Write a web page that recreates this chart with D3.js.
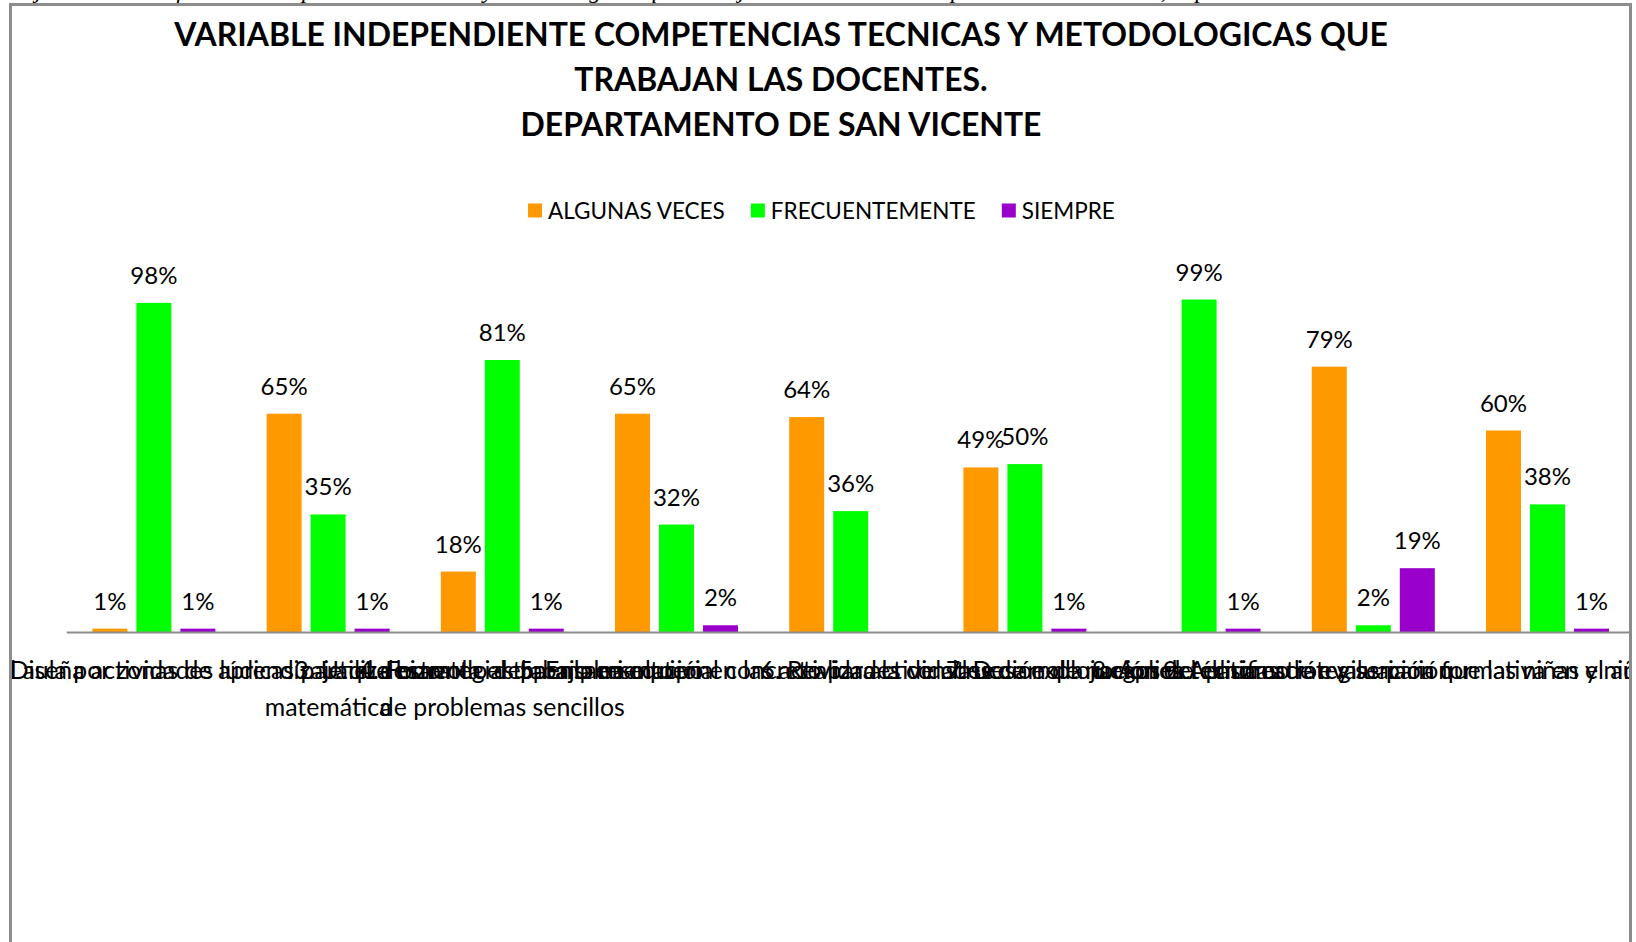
<!DOCTYPE html>
<html>
<head>
<meta charset="utf-8">
<script src="https://cdn.jsdelivr.net/npm/d3@7"></script>
<style>
  body { margin: 0; background: #fff; }
  svg { display: block; }
</style>
</head>
<body>
<div id="chart"></div>
<script>
// chart data
const titleLines = [
  "VARIABLE INDEPENDIENTE COMPETENCIAS TECNICAS Y METODOLOGICAS QUE",
  "TRABAJAN LAS DOCENTES.",
  "DEPARTAMENTO DE SAN VICENTE"
];
const seriesNames = ["ALGUNAS VECES", "FRECUENTEMENTE", "SIEMPRE"];
const seriesColors = ["#ff9900", "#00ff00", "#9900cc"];
const categories = [
  ["1. Organiza el aula por zonas de aprendizaje que hizo"],
  ["2. Diseña actividades lúdicas para el desarrollo del pensamiento", "matemática"],
  ["3. Utiliza estrategias para la resolución", "de problemas sencillos"],
  ["4. Fomenta el trabajo en equipo en las actividades de clase"],
  ["5. Emplea material concreto para la construcción de nociones"],
  ["6. Realiza actividades de exploración del entorno"],
  ["7. Desarrolla juegos de clasificación y seriación"],
  ["8. Aplica técnicas de evaluación formativa en el aula"],
  ["9. Aplica estrategias para que las niñas y niños estimulen su creatividad"]
];
const algunasVeces   = [0.01, 0.65, 0.18, 0.65, 0.64, 0.49, null, 0.79, 0.60];
const frecuentemente = [0.98, 0.35, 0.81, 0.32, 0.36, 0.50, 0.99, 0.02, 0.38];
const siempre        = [0.01, 0.01, 0.01, 0.02, null, 0.01, 0.01, 0.19, 0.01];
const topNote = "Objetivo 2: Identificar las competencias técnicas y metodológicas que trabajan las docentes en el proceso de enseñanza, departamento de San Vicente.";

const width = 1636, height = 942;
const font = "Lato, 'Open Sans', sans-serif";

const svg = d3.select("#chart")
  .append("svg")
  .attr("width", width)
  .attr("height", height);

// cut-off line of document text above the chart
svg.append("text")
  .attr("x", 6)
  .attr("y", -2)
  .attr("font-family", "'Liberation Serif', serif")
  .attr("font-style", "italic")
  .attr("font-size", 24)
  .text(topNote);

// chart frame and clip
const frame = { x: 10.5, y: 4.5, w: 1620, h: 960 };
svg.append("clipPath").attr("id", "frame-clip")
  .append("rect")
  .attr("x", frame.x).attr("y", frame.y)
  .attr("width", frame.w).attr("height", frame.h);

svg.append("rect")
  .attr("x", frame.x).attr("y", frame.y)
  .attr("width", frame.w).attr("height", frame.h)
  .attr("fill", "#fff");

const g = svg.append("g").attr("clip-path", "url(#frame-clip)");

// fit a text's font size to a target width
function fitWidth(sel, target) {
  const len = sel.node().getComputedTextLength();
  const fs = parseFloat(sel.attr("font-size"));
  return fs * target / len;
}

// title
const titleY = [46, 91, 136];
const titles = g.selectAll("text.title")
  .data(titleLines)
  .enter()
  .append("text")
  .attr("class", "title")
  .attr("x", 781)
  .attr("y", (d, i) => titleY[i])
  .attr("text-anchor", "middle")
  .attr("font-family", font)
  .attr("font-weight", "bold")
  .attr("font-size", 36)
  .attr("fill", "#000")
  .text(d => d);
const titleSize = fitWidth(titles.filter((d, i) => i === 0), 1214);
titles.attr("font-size", titleSize);

// legend
const legend = g.append("g");
let lx = 528;
let legendSize = null;
seriesNames.forEach((name, i) => {
  legend.append("rect")
    .attr("x", lx).attr("y", 203.5)
    .attr("width", 14).attr("height", 14)
    .attr("fill", seriesColors[i]);
  const t = legend.append("text")
    .attr("x", lx + 20).attr("y", 219)
    .attr("font-family", font)
    .attr("font-size", 22)
    .attr("fill", "#000")
    .text(name);
  if (legendSize === null) legendSize = fitWidth(t, 177);
  t.attr("font-size", legendSize);
  lx += 20 + t.node().getComputedTextLength() + 26;
});

// scales
const x0 = d3.scaleBand()
  .domain(d3.range(categories.length))
  .range([66.8, 1634.6])
  .padding(0);

const x1 = d3.scaleBand()
  .domain(d3.range(seriesNames.length))
  .range([0, x0.bandwidth()])
  .paddingInner(0.2045)
  .paddingOuter(0.582);

const y = d3.scaleLinear()
  .domain([0, 1.2])
  .range([632, 229]);

const pct = d3.format(".0%");
const allSeries = [algunasVeces, frecuentemente, siempre];
const bars = [];
allSeries.forEach((vals, s) => {
  vals.forEach((v, c) => {
    if (v !== null) bars.push({ s, c, v });
  });
});

// bars
g.selectAll("rect.bar")
  .data(bars)
  .enter()
  .append("rect")
  .attr("class", "bar")
  .attr("x", d => x0(d.c) + x1(d.s))
  .attr("y", d => y(d.v))
  .attr("width", x1.bandwidth())
  .attr("height", d => y(0) - y(d.v))
  .attr("fill", d => seriesColors[d.s]);

// data labels
g.selectAll("text.value")
  .data(bars)
  .enter()
  .append("text")
  .attr("class", "value")
  .attr("x", d => x0(d.c) + x1(d.s) + x1.bandwidth() / 2)
  .attr("y", d => y(d.v) - 19)
  .attr("text-anchor", "middle")
  .attr("font-family", font)
  .attr("font-size", 24)
  .attr("fill", "#000")
  .text(d => pct(d.v));

// axis line
g.append("line")
  .attr("x1", x0.range()[0]).attr("x2", x0.range()[1])
  .attr("y1", y(0) + 0.5).attr("y2", y(0) + 0.5)
  .attr("stroke", "#8c8c8c")
  .attr("stroke-width", 2);

// category labels
const catLabels = g.selectAll("g.cat")
  .data(categories)
  .enter()
  .append("g")
  .attr("class", "cat")
  .attr("transform", (d, i) => "translate(" + (x0(i) + x0.bandwidth() / 2) + ",0)");

catLabels.selectAll("text")
  .data(d => d)
  .enter()
  .append("text")
  .attr("x", 0)
  .attr("y", (d, i) => 679 + i * 37)
  .attr("text-anchor", "middle")
  .attr("font-family", font)
  .attr("font-size", 22)
  .attr("fill", "#000")
  .text(d => d);

const ref = catLabels.filter((d, i) => i === 2).selectAll("text").filter((d, i) => i === 1);
const catSize = fitWidth(ref, 245);
catLabels.selectAll("text").attr("font-size", catSize);

// frame border on top
svg.append("rect")
  .attr("x", frame.x).attr("y", frame.y)
  .attr("width", frame.w).attr("height", frame.h)
  .attr("fill", "none")
  .attr("stroke", "#8c8c8c")
  .attr("stroke-width", 3);
</script>
</body>
</html>
